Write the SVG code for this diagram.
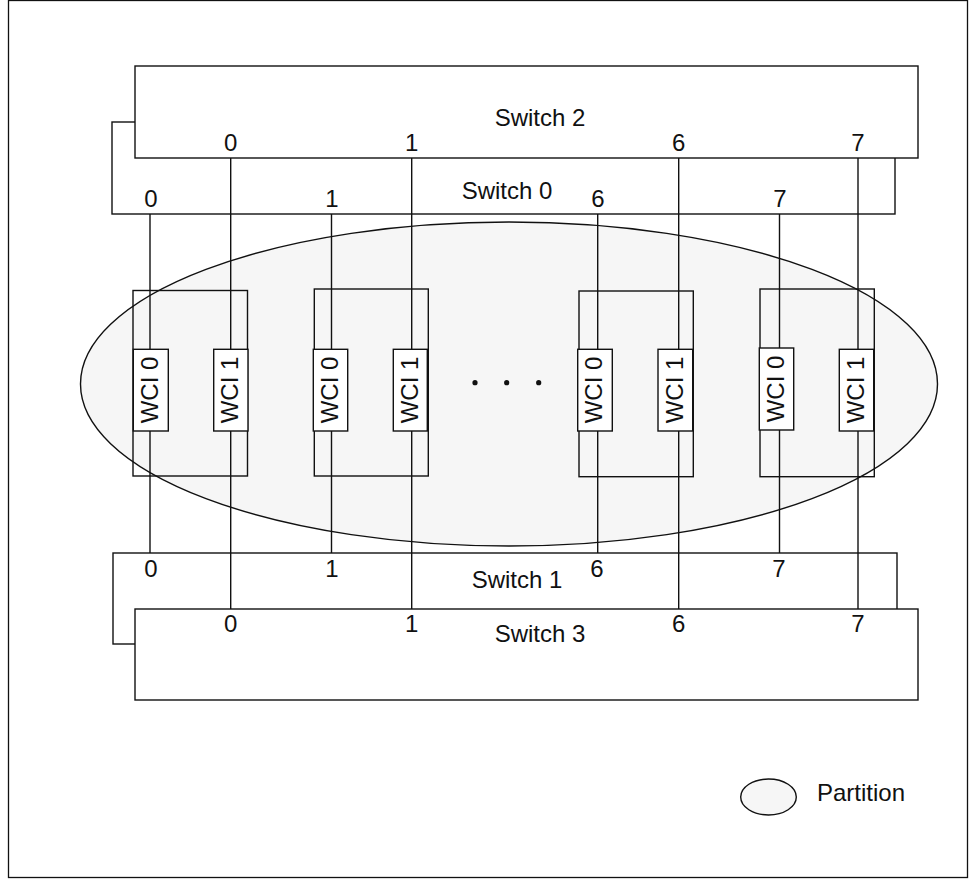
<svg xmlns="http://www.w3.org/2000/svg" width="976" height="880" viewBox="0 0 976 880">
<style>
.frame{fill:#ffffff;stroke:#111;stroke-width:1.3}
.sw{fill:#ffffff;stroke:#111;stroke-width:1.4}
.nb{fill:none;stroke:#111;stroke-width:1.4}
.wci{fill:#ffffff;stroke:#111;stroke-width:1.4}
.part{fill:#f6f6f6;stroke:#111;stroke-width:1.4}
.ln{stroke:#111;stroke-width:1.4;fill:none}
text{font-family:"Liberation Sans",Arial,sans-serif;font-size:24px;fill:#111}
.c{text-anchor:middle}
</style>
<rect class="frame" x="8.5" y="0.5" width="959" height="877"/>
<g id="partition">
<ellipse class="part" cx="509" cy="384" rx="428.5" ry="162"/>
</g>
<g id="switch0">
<rect class="sw" x="112" y="122" width="783" height="92"/>
<text class="c" x="507" y="199">Switch 0</text>
</g>
<g id="switch2">
<rect class="sw" x="135" y="66" width="783" height="92"/>
<text class="c" x="540" y="126">Switch 2</text>
</g>
<g id="switch1">
<rect class="sw" x="113" y="553" width="784" height="91"/>
<text class="c" x="517" y="588">Switch 1</text>
</g>
<g id="switch3">
<rect class="sw" x="135" y="609" width="783" height="91"/>
<text class="c" x="540" y="642">Switch 3</text>
</g>
<g id="connectors">
<line class="ln" x1="150" y1="214" x2="150" y2="553"/>
<line class="ln" x1="331.5" y1="214" x2="331.5" y2="553"/>
<line class="ln" x1="597.7" y1="214" x2="597.7" y2="553"/>
<line class="ln" x1="779.5" y1="214" x2="779.5" y2="553"/>
<line class="ln" x1="230.7" y1="158" x2="230.7" y2="609"/>
<line class="ln" x1="411.7" y1="158" x2="411.7" y2="609"/>
<line class="ln" x1="678.7" y1="158" x2="678.7" y2="609"/>
<line class="ln" x1="858" y1="158" x2="858" y2="609"/>
</g>
<g id="port-labels">
<text class="c" x="230.7" y="151">0</text>
<text class="c" x="411.7" y="151">1</text>
<text class="c" x="678.7" y="151">6</text>
<text class="c" x="858" y="151">7</text>
<text class="c" x="151" y="207">0</text>
<text class="c" x="332" y="207">1</text>
<text class="c" x="598" y="207">6</text>
<text class="c" x="780" y="207">7</text>
<text class="c" x="151" y="577">0</text>
<text class="c" x="332" y="577">1</text>
<text class="c" x="597" y="577">6</text>
<text class="c" x="779" y="577">7</text>
<text class="c" x="230.7" y="632">0</text>
<text class="c" x="411.7" y="632">1</text>
<text class="c" x="678.7" y="632">6</text>
<text class="c" x="858" y="632">7</text>
</g>
<g id="node-a">
<rect class="nb" x="133" y="290.5" width="114.5" height="185.5"/>
<rect class="wci" x="133.3" y="349.3" width="35" height="81.7"/>
<text class="c" transform="translate(157.5,390) rotate(-90)">WCI 0</text>
<rect class="wci" x="213.7" y="349.3" width="34.3" height="81.7"/>
<text class="c" transform="translate(237.5,390) rotate(-90)">WCI 1</text>
</g>
<g id="node-b">
<rect class="nb" x="314.3" y="289" width="114" height="187"/>
<rect class="wci" x="313.3" y="349.3" width="34.4" height="81.7"/>
<text class="c" transform="translate(338,390) rotate(-90)">WCI 0</text>
<rect class="wci" x="393.3" y="349.3" width="34" height="81.7"/>
<text class="c" transform="translate(418,390) rotate(-90)">WCI 1</text>
</g>
<g id="ellipsis">
<circle cx="475" cy="382.7" r="2.6" fill="#111"/>
<circle cx="506.7" cy="382.7" r="2.6" fill="#111"/>
<circle cx="538.7" cy="382.7" r="2.6" fill="#111"/>
</g>
<g id="node-c">
<rect class="nb" x="579" y="291" width="114.3" height="185.7"/>
<rect class="wci" x="577.7" y="349.3" width="34.6" height="81.7"/>
<text class="c" transform="translate(602,390) rotate(-90)">WCI 0</text>
<rect class="wci" x="658" y="349.3" width="34.7" height="81.7"/>
<text class="c" transform="translate(682.5,390) rotate(-90)">WCI 1</text>
</g>
<g id="node-d">
<rect class="nb" x="760" y="289" width="114.3" height="187.7"/>
<rect class="wci" x="759.3" y="348" width="34.4" height="82"/>
<text class="c" transform="translate(784,389) rotate(-90)">WCI 0</text>
<rect class="wci" x="839.3" y="349.3" width="34.4" height="81.7"/>
<text class="c" transform="translate(864,390) rotate(-90)">WCI 1</text>
</g>
<g id="legend">
<ellipse class="part" cx="768.5" cy="797" rx="27.8" ry="18"/>
<text x="817" y="801">Partition</text>
</g>
</svg>
